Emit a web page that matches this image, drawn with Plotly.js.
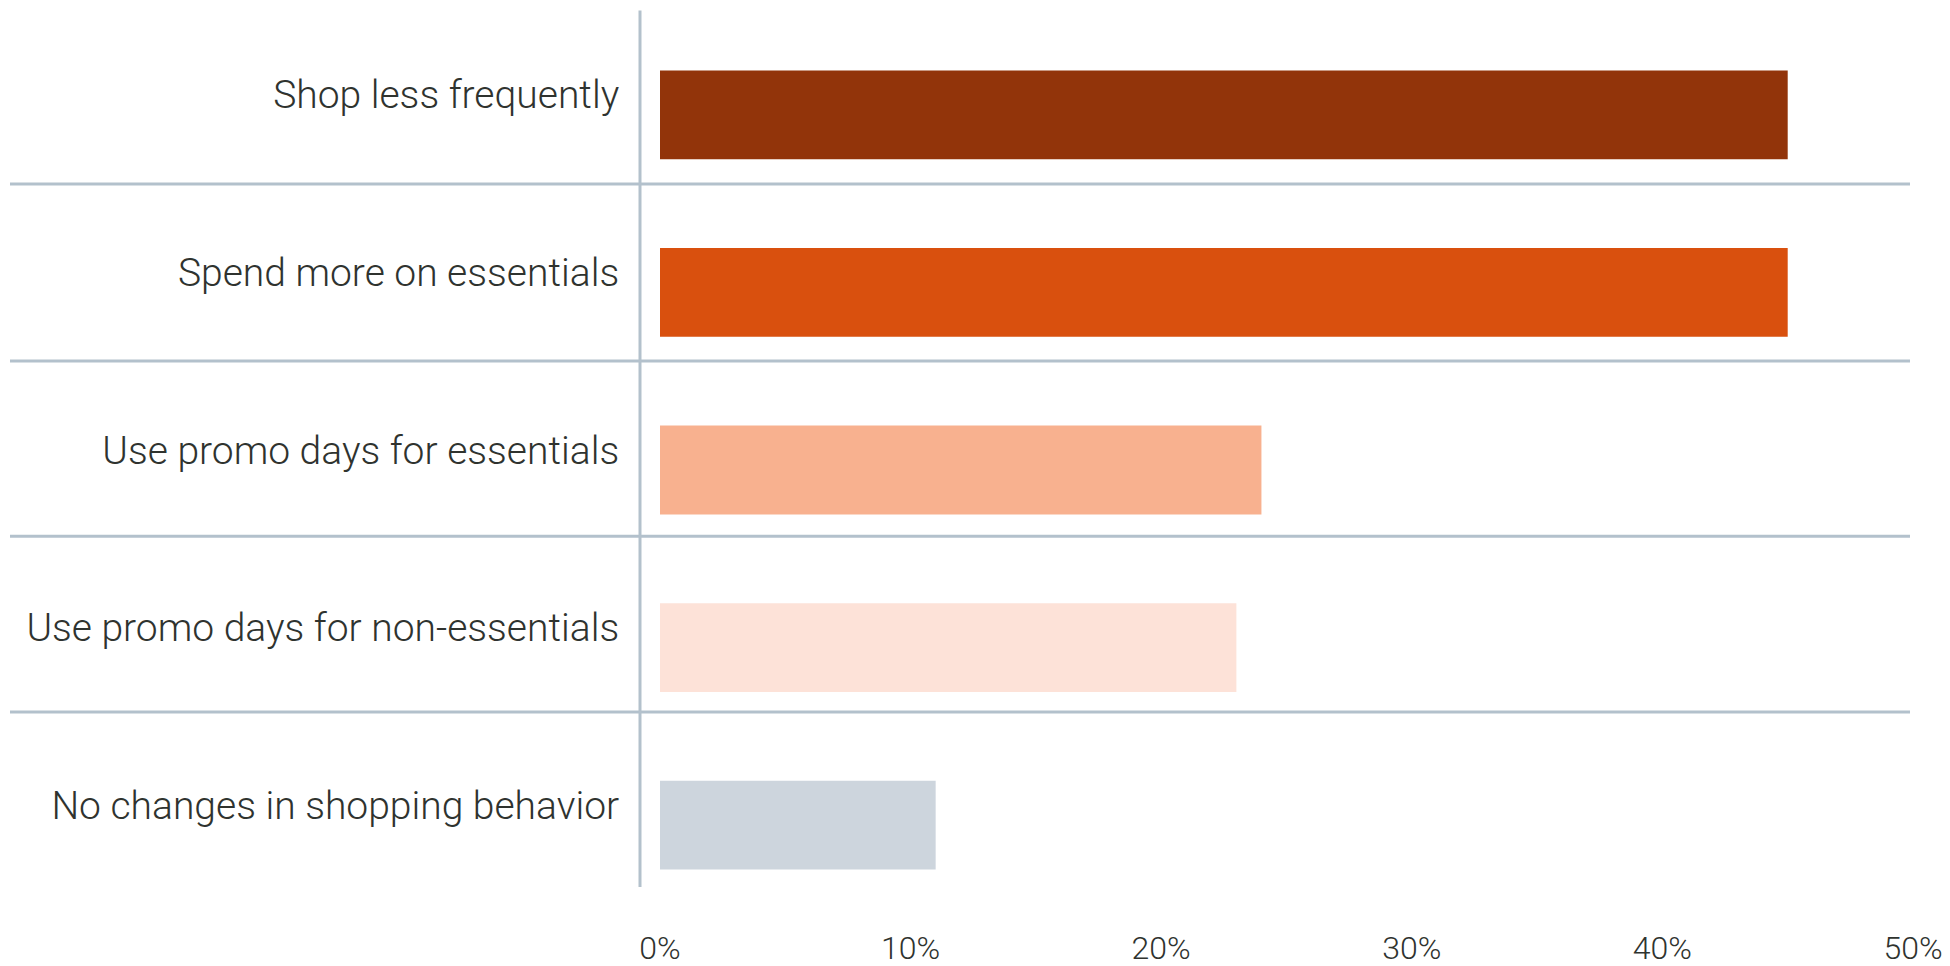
<!DOCTYPE html>
<html>
<head>
<meta charset="utf-8">
<script src="https://cdn.plot.ly/plotly-3.0.1.min.js"></script>
<style>html,body{margin:0;padding:0;background:#fff;}#chart{width:1950px;height:966px;}</style>
</head>
<body>
<div id="chart"></div>
<script>
const categories = [
  "Shop less frequently",
  "Spend more on essentials",
  "Use promo days for essentials",
  "Use promo days for non-essentials",
  "No changes in shopping behavior"
];
const values = [45, 45, 24, 23, 11];
const barColors = ["#92340a", "#d9500e", "#f8b18f", "#fde2d8", "#cdd5dd"];
const tickValues = [0, 10, 20, 30, 40, 50];
const tickLabels = ["0%", "10%", "20%", "30%", "40%", "50%"];

const lineColor = "#b3c1cc";
const textColor = "#2f332f";
const W = 1950, H = 966;
const mL = 660, mR = 37, mT = 25.5, mB = 52;
const plotW = W - mL - mR, plotH = H - mT - mB;
const px = x => (x - mL) / plotW;
const py = y => (H - mB - y) / plotH;

// divider rules sit a little below the midpoint between bars
const dividerOffsets = [0.39, 0.386, 0.373, 0.362];
const shapes = dividerOffsets.map((o, i) => ({
  type: "line", xref: "paper", yref: "y",
  x0: px(10), x1: px(1910), y0: i + o, y1: i + o,
  line: {color: lineColor, width: 3}
}));
shapes.push({type: "line", xref: "paper", yref: "paper",
  x0: px(640), x1: px(640), y0: py(10), y1: py(887),
  line: {color: lineColor, width: 3}});

const trace = {
  type: "bar", orientation: "h",
  x: values, y: categories,
  marker: {color: barColors},
  hoverinfo: "none"
};

const layout = {
  width: W, height: H,
  margin: {l: mL, r: mR, t: mT, b: mB, pad: 0},
  paper_bgcolor: "#fff", plot_bgcolor: "#fff",
  bargap: 0.5,
  showlegend: false,
  font: {family: "Roboto, Liberation Sans, Arial, sans-serif", color: textColor},
  xaxis: {
    range: [0, 50], tickvals: tickValues, ticktext: tickLabels,
    showgrid: false, zeroline: false, showline: false,
    ticks: "outside", ticklen: 6, tickcolor: "rgba(0,0,0,0)",
    tickfont: {size: 32, color: textColor, weight: 300}
  },
  yaxis: {
    type: "category", categoryorder: "array", categoryarray: categories,
    range: [categories.length - 0.5, -0.5],
    showgrid: false, zeroline: false, showline: false,
    ticks: "outside", ticklen: 32, tickcolor: "rgba(0,0,0,0)",
    ticklabelshift: 20,
    tickfont: {size: 39, color: textColor, weight: 300}
  },
  shapes: shapes
};

Plotly.newPlot("chart", [trace], layout, {displayModeBar: false, staticPlot: true});
</script>
</body>
</html>
